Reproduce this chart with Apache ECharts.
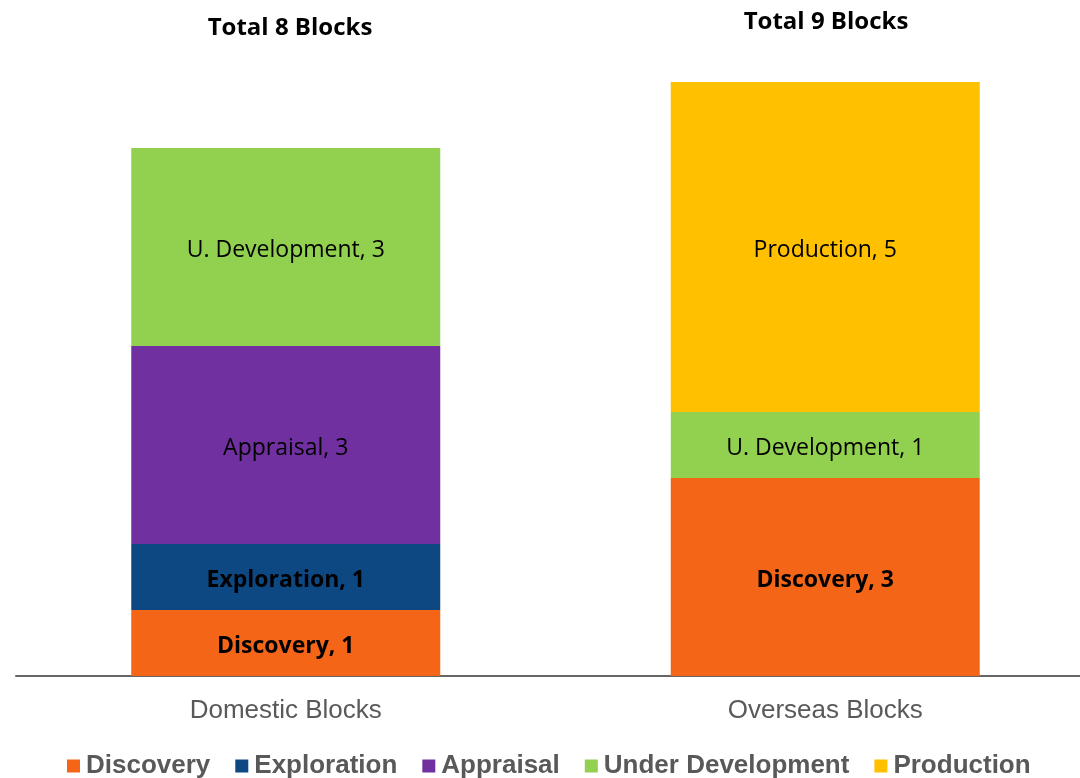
<!DOCTYPE html>
<html>
<head>
<meta charset="utf-8">
<script src="https://cdn.jsdelivr.net/npm/echarts@6/dist/echarts.min.js"></script>
<style>
  html, body { margin: 0; padding: 0; background: #fff; }
  #main { width: 1080px; height: 778px; }
</style>
</head>
<body>
<div id="main"></div>
<script>
// data
let categories = ['Domestic Blocks', 'Overseas Blocks']
let seriesNames = ['Discovery', 'Exploration', 'Appraisal', 'Under Development', 'Production']
let labelNames = ['Discovery', 'Exploration', 'Appraisal', 'U. Development', 'Production']
let discovery = [1, 3]
let exploration = [1, 0]
let appraisal = [3, 0]
let underDevelopment = [3, 1]
let production = [0, 5]
let totals = ['Total 8 Blocks', 'Total 9 Blocks']

let colors = ['#F46518', '#0D4883', '#7030A0', '#92D050', '#FFC000']
let boldLabel = [true, true, false, false, false]
let values = [discovery, exploration, appraisal, underDevelopment, production]

let chart = echarts.init(document.getElementById('main'))

let series = values.map((arr, i) => {
  return {
    name: seriesNames[i],
    type: 'bar',
    stack: 'blocks',
    barWidth: 309,
    itemStyle: { color: colors[i] },
    label: {
      show: true,
      position: 'inside',
      offset: [0, 3],
      color: '#000',
      fontFamily: 'Open Sans',
      fontSize: 23,
      fontWeight: boldLabel[i] ? 'bold' : 'normal',
      formatter: p => labelNames[i] + ', ' + p.value
    },
    // empty segments get no mark and no label
    data: arr.map(v => v === 0 ? '-' : v)
  }
})

let titleStyle = { fontFamily: 'Open Sans', fontWeight: 'bold', fontSize: 24, color: '#000' }

let option = {
  animation: false,
  title: [
    { text: totals[0], left: 290, top: 16, padding: 0, textAlign: 'center', textStyle: titleStyle },
    { text: totals[1], left: 826, top: 10, padding: 0, textAlign: 'center', textStyle: titleStyle }
  ],
  legend: {
    top: 753,
    left: 67,
    padding: 0,
    itemWidth: 13,
    itemHeight: 13,
    itemGap: 25,
    icon: 'rect',
    textStyle: {
      fontFamily: 'Liberation Sans',
      fontWeight: 'bold',
      fontSize: 26,
      color: '#595959',
      padding: [0, 0, 0, 1]
    },
    data: seriesNames
  },
  grid: {
    left: 16,
    top: 16,
    width: 1079,
    bottom: 102,
    outerBoundsMode: 'none'
  },
  xAxis: {
    type: 'category',
    data: categories,
    axisLine: { lineStyle: { color: '#666', width: 2 } },
    axisTick: { show: false },
    axisLabel: {
      margin: 22,
      fontFamily: 'Liberation Sans',
      fontSize: 26,
      color: '#595959'
    }
  },
  yAxis: {
    type: 'value',
    min: 0,
    max: 10,
    show: false,
    splitLine: { show: false }
  },
  series: series
}

chart.setOption(option)
</script>
</body>
</html>
